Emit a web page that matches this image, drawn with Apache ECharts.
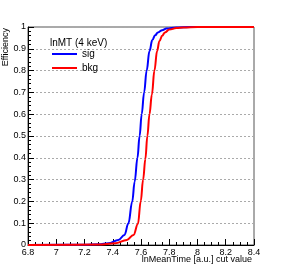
<!DOCTYPE html>
<html>
<head>
<meta charset="utf-8">
<script src="https://cdn.jsdelivr.net/npm/echarts@6/dist/echarts.min.js"></script>
<style>html,body{margin:0;padding:0;background:#fff;}#c{width:282px;height:273px;}</style>
</head>
<body>
<div id="c"></div>
<script>
const xTicks = [6.8, 7, 7.2, 7.4, 7.6, 7.8, 8, 8.2, 8.4];
const yTicks = [0, 0.1, 0.2, 0.3, 0.4, 0.5, 0.6, 0.7, 0.8, 0.9, 1];
const legendTitle = 'lnMT (4 keV)';
const seriesNames = ['sig', 'bkg'];
const xTitle = 'lnMeanTime [a.u.] cut value';
const yTitle = 'Efficiency';

const sigX = [6.8, 7.2, 7.3, 7.37, 7.44, 7.483, 7.511, 7.538, 7.555, 7.575, 7.59, 7.605, 7.622, 7.64, 7.66, 7.68, 7.70, 7.72, 7.75, 7.78, 7.85, 7.95, 8.4];
const sigY = [0, 0.001, 0.003, 0.008, 0.023, 0.046, 0.1, 0.2, 0.29, 0.4, 0.5, 0.6, 0.7, 0.8, 0.89, 0.94, 0.962, 0.975, 0.985, 0.993, 0.998, 1, 1];
const bkgX = [6.8, 7.3, 7.417, 7.5, 7.547, 7.578, 7.598, 7.615, 7.631, 7.645, 7.66, 7.677, 7.695, 7.714, 7.73, 7.75, 7.77, 7.80, 7.85, 7.9, 8.0, 8.4];
const bkgY = [0, 0.002, 0.008, 0.023, 0.046, 0.096, 0.2, 0.3, 0.395, 0.5, 0.6, 0.69, 0.8, 0.89, 0.935, 0.96, 0.975, 0.988, 0.995, 0.998, 1, 1];

const pairs = (xs, ys) => xs.map((x, i) => [x, ys[i]]);
const fmt = v => String(Math.round(v * 10) / 10);
const FONT = 'Liberation Sans';

const chart = echarts.init(document.getElementById('c'), null, {renderer: 'canvas'});
chart.setOption({
  animation: false,
  backgroundColor: '#fff',
  grid: {left: 28, top: 27, right: 28, bottom: 28, show: true, borderColor: '#555', borderWidth: 1},
  title: {text: legendTitle, left: 50, top: 38, textStyle: {fontFamily: FONT, fontSize: 10, fontWeight: 'normal', color: '#000'}, padding: 0},
  legend: {
    data: seriesNames, orient: 'vertical', left: 52, top: 49, itemWidth: 25, itemHeight: 2, itemGap: 4, padding: 0,
    icon: 'rect', textStyle: {fontFamily: FONT, fontSize: 10, color: '#000', padding: [0, 0, 0, 0]}
  },
  xAxis: {
    type: 'value', min: xTicks[0], max: xTicks[xTicks.length - 1], interval: 0.2,
    axisLine: {show: true, onZero: false, lineStyle: {color: '#000', width: 1}},
    axisTick: {show: true, inside: true, length: 6, lineStyle: {color: '#000'}},
    minorTick: {show: true, splitNumber: 4, length: 3, lineStyle: {color: '#000'}},
    axisLabel: {fontFamily: FONT, fontSize: 9, color: '#000', margin: 3, formatter: fmt},
    splitLine: {show: false}
  },
  yAxis: {
    type: 'value', min: yTicks[0], max: yTicks[yTicks.length - 1], interval: 0.1,
    axisLine: {show: true, onZero: false, lineStyle: {color: '#000', width: 1}},
    axisTick: {show: true, inside: true, length: 6, lineStyle: {color: '#000'}},
    minorTick: {show: true, splitNumber: 5, length: 3, lineStyle: {color: '#000'}},
    axisLabel: {fontFamily: FONT, fontSize: 9, color: '#000', margin: 2, formatter: fmt},
    splitLine: {show: true, lineStyle: {color: '#aaa', type: [2, 2], width: 1}}
  },
  graphic: [
    {type: 'text', right: 30, top: 255, style: {text: xTitle, font: '9px "' + FONT + '"', fill: '#000'}},
    {type: 'text', x: 6, y: 28, rotation: Math.PI / 2, style: {text: yTitle, font: '9px "' + FONT + '"', fill: '#000', align: 'right', verticalAlign: 'middle'}}
  ],
  series: [
    {name: seriesNames[0], type: 'line', data: pairs(sigX, sigY), showSymbol: false, smooth: 0.4, smoothMonotone: 'x', lineStyle: {color: '#0000ff', width: 2}, itemStyle: {color: '#0000ff'}},
    {name: seriesNames[1], type: 'line', data: pairs(bkgX, bkgY), showSymbol: false, smooth: 0.4, smoothMonotone: 'x', lineStyle: {color: '#ff0000', width: 2}, itemStyle: {color: '#ff0000'}}
  ]
});
</script>
</body>
</html>
